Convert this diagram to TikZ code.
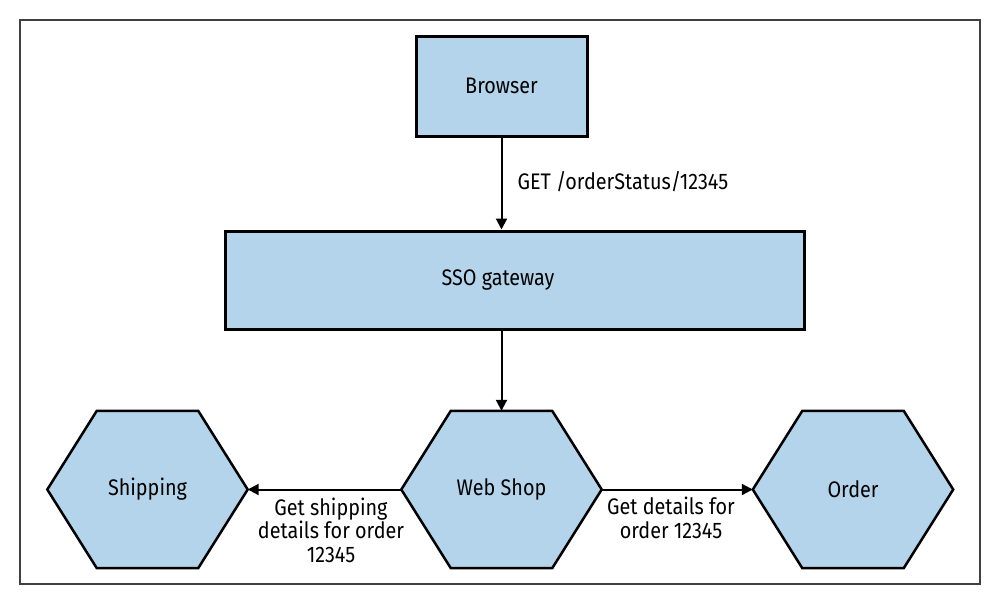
\documentclass[tikz,border=0pt]{standalone}
\usepackage{fontspec}
\setmainfont{Fira Sans}[FakeStretch=0.88]
\usetikzlibrary{arrows.meta,calc,backgrounds}
\definecolor{paleblue}{RGB}{179,212,234}

\begin{document}
\begin{tikzpicture}[x=1pt, y=-1pt,
    every node/.style={font=\fontsize{22.5}{23.5}\selectfont},
    box/.style={draw, fill=paleblue, line width=3pt, inner sep=0pt},
    hexbox/.style={minimum width=200pt, minimum height=157pt, inner sep=0pt},
    link/.style={line width=2pt, -{Triangle[length=11pt,width=11pt]}},
    lbl/.style={align=center}]
    \useasboundingbox (0,0) rectangle (995,600);
    \draw[black!75, line width=1.5pt] (20,20) rectangle (980,584);

    \node[box, minimum width=171pt, minimum height=100pt] (browser) at (501.5,86) {Browser};
    \node[box, minimum width=579pt, minimum height=98pt] (sso) at (514.75,280) {};
    \node (ssotext) at (498,280) {SSO gateway};

    \node[hexbox] (shipping) at (147.5,489.5) {Shipping};
    \node[hexbox] (webshop) at (501.5,489.5) {Web Shop};
    \node[hexbox] (order) at (853,489.5) {Order};

    \begin{scope}[on background layer]
      \foreach \h in {shipping,webshop,order}
        \filldraw[fill=paleblue, line width=2.5pt]
          (\h.west) -- ($(\h.north west)+(49.5,0)$) -- ($(\h.north east)-(49.5,0)$) -- (\h.east)
          -- ($(\h.south east)-(49.5,0)$) -- ($(\h.south west)+(49.5,0)$) -- cycle;
    \end{scope}

    \draw[link] (browser.south) -- (browser.south |- sso.north);
    \draw[link] (webshop.north |- sso.south) -- (webshop.north);
    \draw[link] (webshop.west) -- (shipping.east);
    \draw[link] (webshop.east) -- (order.west);

    \node[anchor=west] (getlabel) at (514,182) {GET /orderStatus/12345};
    \node[lbl] (shiplabel) at (331,530) {Get shipping\\details for order\\12345};
    \node[lbl] (orderlabel) at (671,518) {Get details for\\order 12345};
  \end{tikzpicture}
\end{document}
